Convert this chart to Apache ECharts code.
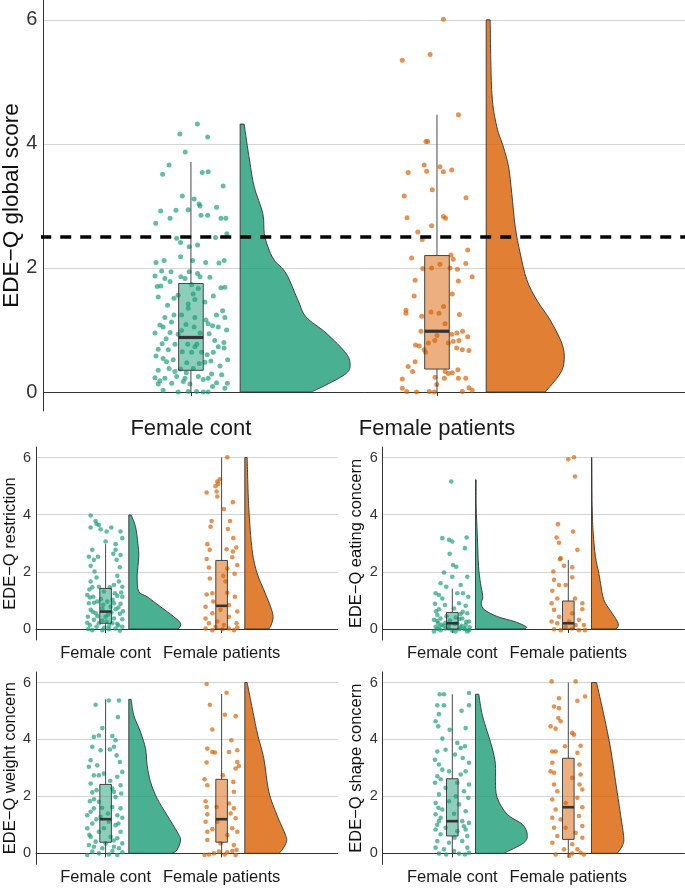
<!DOCTYPE html>
<html><head><meta charset="utf-8">
<script src="https://cdn.jsdelivr.net/npm/echarts@6/dist/echarts.min.js"></script>
<style>html,body{margin:0;padding:0;background:#fff}#c{width:685px;height:889px}</style>
</head><body><div id="c"></div>
<script>
const categories = ['Female cont', 'Female patients'];
const yTicks = [0, 2, 4, 6];
const cutoff = 2.5;
const panelTitles = ['EDE\u2212Q global score', 'EDE\u2212Q restriction', 'EDE\u2212Q eating concern', 'EDE\u2212Q weight concern', 'EDE\u2212Q shape concern'];

// box stats: [lower whisker, q1, median, q3, upper whisker]
const globalContBox = [0, 0.35, 0.88, 1.75, 3.71];
const globalPatBox = [0, 0.37, 0.98, 2.2, 4.47];
const restrContBox = [0, 0.2, 0.61, 1.42, 2.97];
const restrPatBox = [0, 0, 0.81, 2.4, 6.0];
const eatContBox = [0, 0, 0.2, 0.58, 1.41];
const eatPatBox = [0, 0, 0.2, 0.98, 2.42];
const weightContBox = [0, 0.39, 1.2, 2.42, 5.41];
const weightPatBox = [0, 0.39, 1.2, 2.6, 5.6];
const shapeContBox = [0, 0.61, 1.13, 2.62, 5.59];
const shapePatBox = [0, 0.49, 1.62, 3.34, 6.0];

// half-violin density profiles: [score, half-width in category units], top to bottom
const globalContViolin = [[4.32,0.016],[3.74,0.038],[3.31,0.057],[2.88,0.092],[2.56,0.098],[2.34,0.113],[2.13,0.138],[1.91,0.187],[1.48,0.235],[1.21,0.268],[0.95,0.35],[0.62,0.431],[0.43,0.447],[0.3,0.431],[0.14,0.362],[0,0.289]];
const globalPatViolin = [[6.0,0.016],[4.82,0.023],[4.28,0.043],[3.95,0.07],[3.63,0.091],[3.2,0.104],[2.66,0.118],[2.24,0.138],[1.81,0.165],[1.48,0.206],[1.16,0.26],[0.78,0.308],[0.52,0.317],[0.3,0.301],[0,0.24]];
const restrContViolin = [[3.99,0.02],[3.58,0.058],[3.0,0.078],[2.53,0.086],[1.83,0.072],[1.31,0.086],[1.13,0.158],[0.78,0.273],[0.43,0.388],[0.2,0.446],[0.02,0.431],[0,0.403]];
const restrPatViolin = [[6.0,0.02],[4.28,0.034],[2.77,0.063],[1.95,0.106],[1.37,0.164],[0.78,0.222],[0.43,0.244],[0.14,0.227],[0,0.207]];
const eatContViolin = [[5.22,0.006],[4.28,0.006],[3.35,0.015],[2.77,0.02],[2.18,0.026],[1.6,0.043],[1.13,0.063],[0.9,0.049],[0.67,0.078],[0.43,0.192],[0.26,0.336],[0.08,0.437],[0,0.422]];
const eatPatViolin = [[6.0,0.003],[4.28,0.006],[3.35,0.015],[2.53,0.034],[1.95,0.063],[1.6,0.078],[1.02,0.106],[0.55,0.178],[0.2,0.23],[0.02,0.216],[0,0.192]];
const weightContViolin = [[5.41,0.02],[4.85,0.043],[4.26,0.101],[3.68,0.144],[3.09,0.158],[2.51,0.187],[1.93,0.244],[1.34,0.33],[0.76,0.416],[0.47,0.446],[0.12,0.416],[0,0.373]];
const weightPatViolin = [[6.0,0.02],[4.26,0.106],[3.33,0.164],[2.16,0.207],[1.34,0.278],[0.64,0.351],[0.41,0.359],[0.12,0.322],[0,0.293]];
const shapeContViolin = [[5.59,0.028],[4.87,0.058],[4.28,0.101],[3.7,0.144],[3.12,0.172],[2.53,0.172],[1.95,0.187],[1.37,0.273],[1.02,0.403],[0.67,0.446],[0.37,0.416],[0,0.244]];
const shapePatViolin = [[6.0,0.043],[4.87,0.106],[3.7,0.164],[2.53,0.207],[1.37,0.25],[0.55,0.278],[0.26,0.265],[0,0.222]];

// individual scores: [score, horizontal jitter in category units]
const globalContPoints = [[4.32,.026],[4.16,-.045],[4.11,.068],[3.87,-.023],[3.66,-.089],[3.51,-.115],[3.54,.046],[3.55,.070],[3.32,.131],[3.16,-.035],[3.11,.013],[3.03,.033],[3.0,.037],[2.92,-.123],[2.93,-.061],[2.94,-.011],[2.98,.104],[2.85,.041],[2.85,.068],[2.8,-.085],[2.8,.122],[2.8,.142],[2.72,-.143],[2.48,-.058],[2.41,-.042],[2.34,-.007],[2.37,.027],[2.49,.100],[2.55,.146],[2.12,.007],[2.18,-.042],[2.09,.060],[2.12,-.109],[2.09,-.142],[2.08,.114],[2.12,.135],[1.94,-.081],[1.95,-.119],[1.94,-.007],[1.78,-.085],[1.91,.027],[1.86,.037],[1.86,-.041],[1.85,.077],[1.87,-.146],[1.70,-.137],[1.71,-.122],[1.83,-.024],[1.69,.138],[1.68,.122],[1.56,-.052],[1.58,.009],[1.55,.091],[1.53,-.133],[1.40,-.095],[1.42,-.011],[1.49,.016],[1.31,.129],[1.24,-.069],[1.20,-.106],[1.09,-.020],[1.16,.061],[1.07,.088],[1.05,.111],[1.20,.138],[1.08,-.126],[0.96,-.085],[0.99,-.038],[1.05,.013],[0.95,.037],[0.95,-.146],[0.94,.074],[0.80,.134],[0.78,-.117],[0.77,-.065],[0.77,-.013],[0.77,.024],[0.73,.111],[0.69,-.133],[0.68,-.092],[0.65,-.035],[0.64,.003],[0.64,.043],[0.71,.135],[0.50,.081],[0.54,-.113],[0.52,-.072],[0.52,.149],[0.47,-.017],[0.46,.034],[0.35,-.133],[0.38,-.089],[0.37,-.042],[0.38,.009],[0.28,.125],[0.23,-.146],[0.22,-.106],[0.25,-.058],[0.22,-.024],[0.25,.030],[0.22,.070],[0.14,.148],[0.13,-.133],[0.14,-.078],[0.13,-.004],[0.15,.104],[0.03,-.113],[0.0,-.052],[0.01,-.011],[0.01,.023],[0.0,.050],[0.0,.070],[0.06,.138],[0.17,-.031],[0.2,.050],[0.29,.084],[0.33,-.065],[0.49,-.099],[0.48,.057],[0.64,.091],[0.73,.016],[0.93,-.052],[1.05,-.113],[1.1,.070],[1.2,.016],[1.24,-.038],[1.24,.104],[1.35,-.011],[1.45,.057],[1.51,-.069],[1.67,.030],[1.83,-.106],[1.73,.003],[0.58,-.142],[0.86,-.101],[1.13,-.079],[0.42,.118],[0.09,.088],[0.31,-.019],[0.6,.066],[1.0,.145],[0.18,-.126],[0.83,.097]];
const globalPatPoints = [[6.01,.026],[5.35,-.141],[5.44,-.028],[4.47,.087],[4.04,-.045],[4.04,-.038],[3.66,-.052],[3.54,-.117],[3.56,-.042],[3.63,.012],[3.55,.026],[3.58,.060],[3.26,-.019],[3.16,-.133],[3.13,.118],[2.81,-.122],[2.83,.026],[2.80,.035],[2.68,-.022],[2.58,-.078],[2.46,-.060],[2.16,-.103],[2.29,.125],[2.21,.057],[2.14,.066],[2.07,.117],[1.99,-.058],[2.0,-.022],[2.06,.012],[2.0,.053],[1.98,.083],[1.86,.143],[1.80,-.089],[1.79,.087],[1.55,-.093],[1.58,.062],[1.32,-.126],[1.27,-.126],[1.29,-.024],[1.27,.008],[1.38,.027],[1.25,.091],[1.22,-.062],[1.1,.033],[0.98,-.065],[0.93,.060],[0.95,.081],[0.98,.104],[0.89,.125],[0.91,0],[0.83,-.009],[0.76,-.087],[0.74,-.072],[0.79,-.035],[0.79,.046],[0.82,.066],[0.83,.089],[0.71,.080],[0.68,.103],[0.67,.130],[0.64,-.046],[0.68,-.052],[0.49,-.089],[0.41,-.117],[0.33,-.099],[0.33,.033],[0.30,.046],[0.31,.062],[0.36,.085],[0.21,-.141],[0.24,-.008],[0.22,.030],[0.22,.087],[0.22,.117],[0.12,-.001],[0.06,-.141],[0.01,-.123],[0.0,-.083],[0.01,-.031],[0.0,-.011],[0.01,.103],[0.07,.130],[0.03,.143]];
const restrContPoints = [[3.97,-.129],[3.78,-.086],[3.68,-.078],[3.55,-.129],[3.64,-.058],[3.49,-.043],[3.41,.009],[3.55,.049],[3.18,.144],[3.41,.129],[2.97,.086],[2.77,.086],[3.06,0],[2.77,-.115],[2.53,-.144],[2.42,-.101],[2.53,-.066],[2.42,.095],[2.59,.129],[2.63,.066],[2.21,-.129],[2.01,-.095],[2.16,.123],[1.86,.101],[1.80,-.078],[1.66,-.129],[1.66,.115],[1.48,.144],[1.46,-.115],[1.48,-.058],[1.54,.072],[1.46,.037],[1.19,-.158],[1.13,-.106],[1.16,.101],[1.13,.144],[1.31,-.015],[0.9,-.144],[0.96,-.072],[0.9,.072],[0.88,.129],[0.96,.015],[0.67,-.129],[0.55,-.086],[0.69,.086],[0.53,.123],[0.72,-.028],[0.78,.043],[0.43,-.153],[0.32,-.101],[0.37,.072],[0.34,.144],[0.43,0],[0.14,-.135],[0.08,-.078],[-0.04,-.028],[-0.01,.028],[0.02,.086],[0.08,.144],[-0.04,-.115],[-0.06,.123],[0.2,-.058],[0.2,.058],[0.22,-.158],[0.26,.009],[1.05,-.04],[1.25,.08],[0.6,-.11],[0.5,.02],[0.85,-.02],[1.38,-.14],[0.1,.03],[0.3,-.03],[0.62,.15],[1.02,.06],[0.0,-.15],[0.12,.11],[1.1,-.135],[0.75,.11],[0.45,-.07],[0.18,.1],[0.04,-.01],[1.28,.135],[0.92,-.1],[0.58,.05]];
const restrPatPoints = [[6.01,.049],[5.24,-.015],[5.16,-.037],[5.08,-.028],[5.0,-.052],[4.78,-.129],[4.81,-.043],[4.64,-.037],[4.44,.097],[4.2,.020],[3.78,-.086],[3.78,.072],[3.58,-.095],[3.5,.054],[3.18,.101],[2.97,-.123],[2.77,-.103],[2.79,.043],[2.85,.127],[2.71,.097],[2.45,-.129],[2.51,.092],[2.24,.135],[2.15,-.109],[2.12,.049],[1.93,.112],[1.77,-.101],[1.86,.015],[1.66,.034],[1.27,.049],[1.21,-.129],[1.25,-.080],[1.13,.115],[0.96,-.072],[0.84,.063],[0.78,-.138],[0.67,-.009],[0.55,-.080],[0.61,.135],[0.37,-.138],[0.43,.063],[0.26,-.037],[0.2,-.109],[0.2,.129],[0.02,-.138],[-0.04,-.080],[-0.01,.006],[0.02,.063],[-0.04,.106],[0.05,.135],[0.08,-.052],[0.14,.020]];
const eatContPoints = [[5.16,-.009],[3.18,-.086],[3.12,-.028],[3.06,0],[3.2,.123],[2.83,.109],[2.63,-.023],[2.24,.006],[2.18,.034],[1.98,-.072],[1.83,0],[1.83,.129],[1.6,-.101],[1.48,-.052],[1.54,.072],[1.25,-.144],[1.19,-.115],[1.25,.043],[1.25,.092],[1.13,.138],[1.07,-.086],[0.88,-.149],[0.84,-.063],[0.9,.058],[0.81,.115],[0.69,-.115],[0.72,.015],[0.55,.129],[0.49,-.129],[0.32,-.158],[0.37,-.101],[0.22,-.058],[0.37,.086],[0.26,.144],[0.2,.043],[0.08,-.144],[-0.04,-.101],[0.02,-.058],[-0.06,0],[-0.01,.058],[0.02,.101],[-0.04,.144],[0.2,-.121],[0.14,-.028],[0.14,.115],[-0.09,-.158],[-0.09,.028],[0.11,-.072],[0.11,.080],[-0.09,.129],[0.3,-.02],[0.05,.07],[0.45,-.05],[0.6,.09],[0.0,-.13],[0.25,.12],[0.15,-.09],[0.4,.03],[0.02,-.03],[0.06,.15],[0.62,-.14],[0.35,.06],[0.08,-.11],[0.18,.02],[0.52,.07],[0.0,.11],[0.28,-.13]];
const eatPatPoints = [[5.94,0],[6.01,.049],[5.34,.058],[3.67,-.089],[3.2,-.101],[3.02,-.080],[3.41,.041],[2.77,.078],[2.44,-.072],[2.48,-.066],[2.21,-.037],[2.16,.034],[2.01,-.129],[1.81,.034],[1.72,-.123],[1.54,-.080],[1.54,-.023],[1.34,-.138],[1.07,-.095],[1.07,.058],[0.9,-.144],[0.9,.121],[0.67,-.123],[0.69,.121],[0.55,.034],[0.43,-.080],[0.26,-.144],[0.2,-.095],[0.26,.006],[0.32,.092],[0.14,.135],[-0.01,-.123],[-0.04,-.066],[0.02,.034],[-0.04,.092],[-0.04,.144],[0.08,-.023],[0.14,.063]];
const weightContPoints = [[5.37,.028],[5.37,.115],[5.22,-.086],[4.79,.106],[4.4,-.028],[4.09,-.101],[4.14,-.058],[4.12,.058],[3.97,.086],[3.74,.072],[3.65,.037],[3.62,-.043],[3.27,-.129],[3.04,-.144],[3.44,.095],[3.21,.123],[2.86,.144],[2.74,-.101],[2.45,-.129],[2.74,-.058],[2.8,-.015],[2.69,.101],[2.28,.058],[2.39,.129],[2.14,-.115],[2.22,-.078],[1.98,.086],[2.1,.135],[1.83,-.135],[1.81,-.058],[1.58,-.101],[1.63,.058],[1.58,.129],[1.34,-.158],[1.28,-.043],[1.34,.101],[1.25,.144],[1.05,-.115],[1.11,.028],[0.99,.086],[0.88,-.158],[0.76,-.058],[0.76,.129],[0.58,-.129],[0.58,.043],[0.53,.101],[0.41,-.086],[0.35,.144],[0.29,-.144],[0.35,0],[0.23,.072],[0.06,-.115],[0,-.058],[-0.04,.028],[-0.06,.101],[0.04,.144],[-0.06,-.158],[0.18,-.028],[0.23,-.101],[0.08,.058],[0.18,.115],[0.88,-.015],[1.46,-.129],[2.16,.072],[3.09,-.072],[3.74,-.115],[1.6,-.03],[1.05,.11],[0.65,-.14],[1.9,-.1],[2.55,.04],[1.2,-.08],[0.45,.07],[1.4,.02]];
const weightPatPoints = [[5.95,-.129],[5.64,.043],[5.22,-.101],[4.87,.028],[4.82,.121],[4.35,-.080],[3.97,.084],[3.68,-.123],[3.56,-.080],[3.54,-.058],[3.19,-.129],[3.56,.063],[3.62,.135],[3.21,.135],[2.98,.121],[3.07,.149],[2.51,.101],[2.74,.011],[2.6,-.147],[2.39,-.123],[2.16,.106],[1.83,-.138],[1.63,-.129],[1.63,-.043],[1.75,.063],[1.58,.106],[1.37,-.123],[1.4,.078],[1.23,.121],[1.11,-.138],[1.11,-.037],[0.85,-.080],[0.88,.092],[0.76,-.123],[0.76,.135],[0.47,-.123],[0.64,.049],[0.35,-.009],[0.29,.106],[-0.06,-.147],[-0.04,-.109],[0,-.066],[-0.04,.026],[0.04,.049],[0.08,.092],[0.12,.129],[-0.06,.121],[0.06,-.023]];
const shapeContPoints = [[5.59,-.109],[5.59,-.072],[5.63,.144],[5.2,-.129],[5.2,-.072],[5.2,.144],[5.01,.080],[4.89,-.115],[4.64,-.144],[4.46,-.121],[4.34,-.023],[4.4,.115],[4.03,-.086],[3.88,.043],[3.7,.072],[3.76,.109],[3.58,-.129],[3.64,-.058],[3.47,.023],[3.29,-.149],[3.12,-.115],[3.18,.144],[2.94,-.086],[2.88,-.028],[2.77,.072],[2.88,.115],[2.71,-.129],[2.48,-.149],[2.48,.043],[2.42,.144],[2.3,-.058],[2.18,.101],[2.07,-.115],[1.95,.138],[1.77,-.144],[1.83,-.028],[1.72,.058],[1.54,-.086],[1.48,.115],[1.37,-.144],[1.39,.015],[1.13,-.115],[1.13,.086],[1.07,.144],[0.9,-.058],[0.84,-.144],[0.78,.043],[0.84,.115],[0.67,-.101],[0.61,.129],[0.43,-.129],[0.37,-.028],[0.43,.086],[0.2,-.144],[0.14,-.072],[0.2,.129],[-0.01,-.115],[-0.04,-.052],[-0.01,.058],[-0.04,.109],[0.02,.144],[0.08,.015],[1.25,-.1],[0.95,.1],[1.6,-.12],[2.0,.03],[0.55,.02],[1.0,-.13],[3.35,.09],[2.6,-.1]];
const shapePatPoints = [[6.04,-.144],[6.04,.063],[5.45,-.080],[5.36,.078],[5.51,.144],[5.16,-.123],[5.1,-.080],[4.75,-.086],[4.64,-.066],[4.46,-.153],[4.38,-.109],[4.23,.034],[4.17,.049],[3.76,-.028],[3.78,.106],[3.58,-.138],[3.58,-.109],[3.53,.078],[3.18,-.138],[3.12,.097],[2.88,-.153],[2.83,-.123],[2.77,.106],[2.65,.034],[2.42,-.123],[2.42,.097],[2.18,-.095],[2.24,.121],[1.89,-.138],[1.95,.078],[1.77,-.023],[1.54,-.109],[1.62,.121],[1.25,-.138],[1.19,-.066],[1.31,.092],[0.96,.121],[0.9,-.123],[0.9,-.023],[0.72,.063],[0.61,-.095],[0.55,.121],[0.37,-.138],[0.32,.034],[0.14,-.037],[0.14,.078],[-0.04,-.109],[-0.01,.034],[0.02,.106],[-0.04,.135],[-0.09,.006]];

// ---------- presentation ----------
const FONT = "'Liberation Sans', Arial, sans-serif";
const pointColors = ['rgba(27,158,119,0.85)', 'rgba(217,95,2,0.85)'];
const boxFills = ['rgba(27,158,119,0.5)', 'rgba(217,95,2,0.5)'];
const violinFills = ['rgba(27,158,119,0.8)', 'rgba(217,95,2,0.8)'];
const VIOLIN_OFFSET = 0.2, BOX_HALF = 0.05;

const panels = [
  {cont: globalContPoints, pat: globalPatPoints, boxes: [globalContBox, globalPatBox], violins: [globalContViolin, globalPatViolin]},
  {cont: restrContPoints, pat: restrPatPoints, boxes: [restrContBox, restrPatBox], violins: [restrContViolin, restrPatViolin]},
  {cont: eatContPoints, pat: eatPatPoints, boxes: [eatContBox, eatPatBox], violins: [eatContViolin, eatPatViolin]},
  {cont: weightContPoints, pat: weightPatPoints, boxes: [weightContBox, weightPatBox], violins: [weightContViolin, weightPatViolin]},
  {cont: shapeContPoints, pat: shapePatPoints, boxes: [shapeContBox, shapePatBox], violins: [shapeContViolin, shapePatViolin]}
];
const layouts = [
  {grid: {left: 43.3, top: 0, width: 641.7, height: 411}, x: [0.4, 3.008], y: [-0.306, 6.32], big: true},
  {grid: {left: 36, top: 447, width: 301.6, height: 193}, x: [0.4, 3.0], y: [-0.385, 6.37]},
  {grid: {left: 382.7, top: 447, width: 301.6, height: 193}, x: [0.4, 3.0], y: [-0.385, 6.37]},
  {grid: {left: 36, top: 672, width: 301.6, height: 192.3}, x: [0.4, 3.0], y: [-0.385, 6.37]},
  {grid: {left: 382.7, top: 672, width: 301.6, height: 192.3}, x: [0.4, 3.0], y: [-0.385, 6.37]}
];

// smooth outline through pixel points (Catmull-Rom as cubic Bezier)
function smoothPath(pts) {
  let d = '';
  for (let i = 0; i < pts.length - 1; i++) {
    const p0 = pts[Math.max(0, i - 1)], p1 = pts[i], p2 = pts[i + 1], p3 = pts[Math.min(pts.length - 1, i + 2)];
    const c1 = [p1[0] + (p2[0] - p0[0]) / 6, p1[1] + (p2[1] - p0[1]) / 6];
    const c2 = [p2[0] - (p3[0] - p1[0]) / 6, p2[1] - (p3[1] - p1[1]) / 6];
    d += ' C' + c1[0] + ' ' + c1[1] + ' ' + c2[0] + ' ' + c2[1] + ' ' + p2[0] + ' ' + p2[1];
  }
  return d;
}

const grid = [], xAxis = [], yAxis = [], series = [];
const catPos = categories.map((c, i) => i + 1);

layouts.forEach((L, k) => {
  const big = !!L.big;
  grid.push(Object.assign({containLabel: false, outerBoundsMode: 'none'}, L.grid));
  xAxis.push({
    type: 'value', gridIndex: k, min: L.x[0], max: L.x[1],
    axisLine: {show: true, lineStyle: {color: '#333', width: 1}},
    axisTick: {show: true, customValues: catPos, length: 4, lineStyle: {color: '#333'}},
    axisLabel: {customValues: catPos, margin: big ? 7 : 5, fontFamily: FONT, fontSize: big ? 22 : 16.5, color: '#1a1a1a',
      formatter: v => categories[Math.round(v) - 1] || ''},
    splitLine: {show: false}
  });
  yAxis.push({
    type: 'value', gridIndex: k, min: L.y[0], max: L.y[1],
    name: panelTitles[k], nameLocation: 'middle', nameGap: big ? 20 : 17.5, nameMoveOverlap: false,
    nameTextStyle: {fontFamily: FONT, fontSize: big ? 22.5 : 16.5, color: '#111'},
    axisLine: {show: true, lineStyle: {color: '#333', width: 1}},
    axisTick: {show: false, customValues: yTicks},
    axisLabel: {customValues: yTicks, margin: big ? 6 : 5, fontFamily: FONT, fontSize: big ? 20 : 14.5, color: '#333'},
    splitLine: {show: true, lineStyle: {color: '#d4d4d4', width: 1}}
  });

  const P = panels[k];
  [P.cont, P.pat].forEach((pts, g) => {
    series.push({
      type: 'scatter', xAxisIndex: k, yAxisIndex: k, silent: true, z: 2,
      symbolSize: big ? 5 : 4.6,
      itemStyle: {color: pointColors[g]},
      data: pts.map(([v, j]) => [catPos[g] + j, v])
    });
  });

  series.push({
    type: 'custom', xAxisIndex: k, yAxisIndex: k, silent: true, z: 3,
    data: P.boxes.map((b, g) => [catPos[g]].concat(b)),
    renderItem: (params, api) => {
      const g = params.dataIndex;
      const c = api.value(0), lo = api.value(1), q1 = api.value(2), med = api.value(3), q3 = api.value(4), hi = api.value(5);
      const a = api.coord([c, lo]), b = api.coord([c, q1]), d = api.coord([c, q3]), e = api.coord([c, hi]);
      const tl = api.coord([c - BOX_HALF, q3]), br = api.coord([c + BOX_HALF, q1]);
      const ml = api.coord([c - BOX_HALF, med]), mr = api.coord([c + BOX_HALF, med]);
      const ls = {stroke: '#333', lineWidth: 0.9};
      return {type: 'group', children: [
        {type: 'line', shape: {x1: a[0], y1: a[1], x2: b[0], y2: b[1]}, style: ls},
        {type: 'line', shape: {x1: d[0], y1: d[1], x2: e[0], y2: e[1]}, style: ls},
        {type: 'rect', shape: {x: tl[0], y: tl[1], width: br[0] - tl[0], height: br[1] - tl[1]}, style: {fill: boxFills[g], stroke: '#333', lineWidth: 0.9}},
        {type: 'line', shape: {x1: ml[0], y1: ml[1], x2: mr[0], y2: mr[1]}, style: {stroke: '#333', lineWidth: big ? 3.2 : 2.6}}
      ]};
    }
  });

  series.push({
    type: 'custom', xAxisIndex: k, yAxisIndex: k, silent: true, z: 3,
    data: P.violins.map((v, g) => [catPos[g]]),
    renderItem: (params, api) => {
      const g = params.dataIndex;
      const base = api.value(0) + VIOLIN_OFFSET;
      const prof = P.violins[g];
      const top = api.coord([base, prof[0][0]]);
      const bottom = api.coord([base, prof[prof.length - 1][0]]);
      const pts = prof.map(([v, w]) => api.coord([base + w, v]));
      const d = 'M' + top[0] + ' ' + top[1] + ' L' + pts[0][0] + ' ' + pts[0][1] + smoothPath(pts) +
        ' L' + bottom[0] + ' ' + bottom[1] + ' Z';
      return {type: 'path', shape: {pathData: d}, style: {fill: violinFills[g], stroke: '#333', lineWidth: 0.9}};
    }
  });

  if (big) {
    series.push({
      type: 'line', xAxisIndex: k, yAxisIndex: k, silent: true, z: 10, clip: false,
      symbol: 'none', lineStyle: {color: '#000', width: 3.5, type: [11, 9]},
      data: [[0.225, cutoff], [L.x[1], cutoff]]
    });
  }
});

const chart = echarts.init(document.getElementById('c'), null, {renderer: 'canvas'});
chart.setOption({backgroundColor: '#fff', animation: false, grid, xAxis, yAxis, series});
</script>
</body></html>
